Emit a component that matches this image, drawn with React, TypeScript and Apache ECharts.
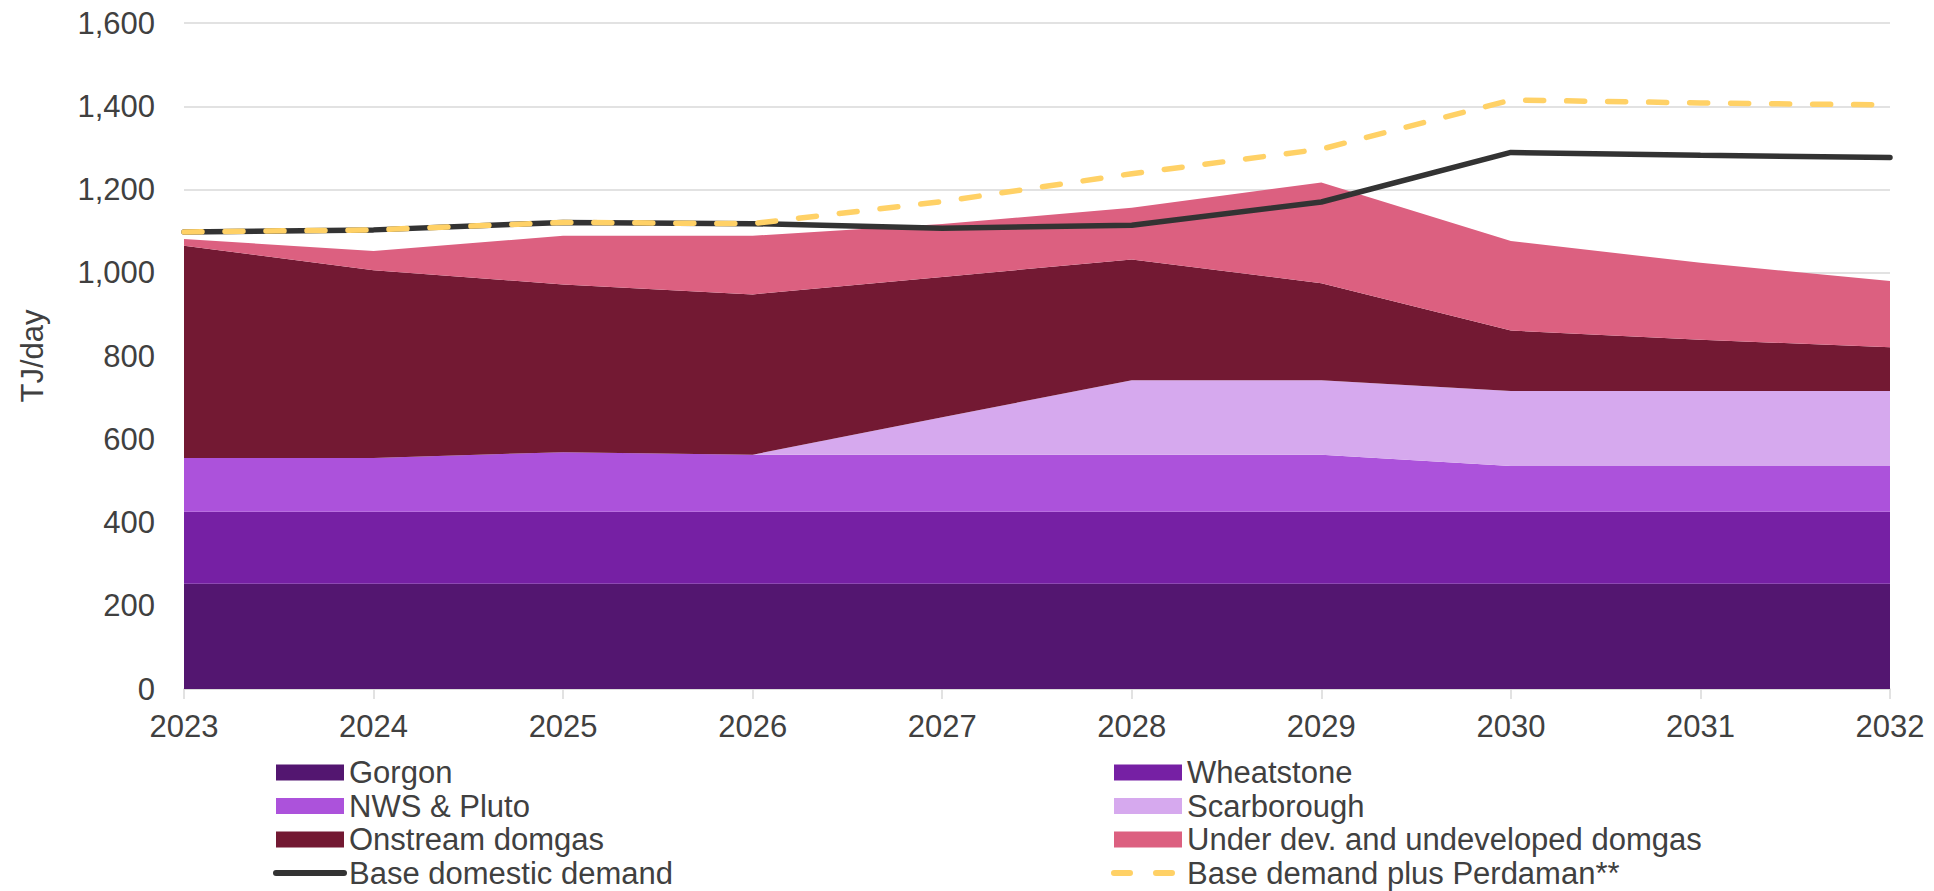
import React, { useEffect, useRef } from "react";
import * as echarts from "echarts";

const years = ["2023", "2024", "2025", "2026", "2027", "2028", "2029", "2030", "2031", "2032"];
const gorgon = [253, 253, 253, 253, 253, 253, 253, 253, 253, 253];
const wheatstone = [173, 173, 173, 173, 173, 173, 173, 173, 173, 173];
const nwsPluto = [129, 129, 143, 137, 137, 137, 137, 110, 110, 110];
const scarborough = [0, 0, 0, 0, 90, 179, 179, 180, 180, 180];
const onstream = [510, 451, 403, 385, 337, 290, 233, 145, 123, 105];
const underDev = [16, 46, 117, 141, 127, 124, 242, 215, 185, 159];
const baseDemand = [1098, 1103, 1121, 1118, 1107, 1114, 1170, 1289, 1282, 1277];
const perdaman = [1098, 1103, 1121, 1118, 1171, 1238, 1297, 1415, 1408, 1403];

const areaNames = ["Gorgon", "Wheatstone", "NWS & Pluto", "Scarborough", "Onstream domgas", "Under dev. and undeveloped domgas"];
const areaData = [gorgon, wheatstone, nwsPluto, scarborough, onstream, underDev];
const areaColors = ["#531670", "#7620A4", "#AC52DB", "#D6A9EE", "#731933", "#DC6080"];

const TEXT = "#404040";
const FONT = "Liberation Sans, Arial, sans-serif";

export default function App() {
  const ref = useRef<HTMLDivElement>(null);
  useEffect(() => {
    if (!ref.current) return;
    const chart = echarts.init(ref.current, null, { renderer: "svg" });
    const areaSeries = areaNames.map((name, i) => ({
      name,
      type: "line",
      stack: "supply",
      data: areaData[i],
      symbol: "none",
      lineStyle: { width: 0, color: areaColors[i] },
      itemStyle: { color: areaColors[i] },
      areaStyle: { color: areaColors[i], opacity: 1 },
      z: 2,
    }));
    const legendCommon = {
      orient: "vertical",
      top: 757,
      height: 140,
      padding: 0,
      itemWidth: 68,
      itemHeight: 16,
      itemGap: 2.5,
      textStyle: { fontSize: 31, color: TEXT, fontFamily: FONT },
    };
    chart.setOption({
      animation: false,
      textStyle: { fontFamily: FONT },
      grid: { left: 184, right: 44, top: 23, bottom: 202, containLabel: false },
      legend: [
        {
          ...legendCommon,
          left: 273,
          data: [
            { name: "Gorgon", icon: "rect" },
            { name: "NWS & Pluto", icon: "rect" },
            { name: "Onstream domgas", icon: "rect" },
            {
              name: "Base domestic demand",
              itemStyle: { opacity: 0 },
              lineStyle: { width: 6, cap: "round", color: "#333333" },
            },
          ],
        },
        {
          ...legendCommon,
          left: 1111,
          data: [
            { name: "Wheatstone", icon: "rect" },
            { name: "Scarborough", icon: "rect" },
            { name: "Under dev. and undeveloped domgas", icon: "rect" },
            {
              name: "Base demand plus Perdaman**",
              itemStyle: { opacity: 0 },
              lineStyle: { width: 6, cap: "round", type: [16, 26], color: "#FFD166" },
            },
          ],
        },
      ],
      xAxis: {
        type: "category",
        data: years,
        boundaryGap: false,
        axisLine: { lineStyle: { color: "#D9D9D9", width: 1.5 } },
        axisTick: { show: true, length: 10, lineStyle: { color: "#D9D9D9", width: 1.5 } },
        axisLabel: { fontSize: 31, color: TEXT, margin: 22, fontFamily: FONT },
        splitLine: { show: false },
      },
      yAxis: {
        type: "value",
        min: 0,
        max: 1600,
        interval: 200,
        name: "TJ/day",
        nameLocation: "middle",
        nameGap: 136,
        nameTextStyle: { fontSize: 31, color: TEXT, fontFamily: FONT },
        axisLine: { show: false },
        axisTick: { show: false },
        axisLabel: {
          fontSize: 31,
          color: TEXT,
          margin: 29,
          fontFamily: FONT,
          formatter: (v: number) => v.toLocaleString("en-US"),
        },
        splitLine: { lineStyle: { color: "#D9D9D9", width: 1.5 } },
      },
      series: [
        ...areaSeries,
        {
          name: "Base domestic demand",
          type: "line",
          data: baseDemand,
          symbol: "none",
          lineStyle: { color: "#333333", width: 5.5, cap: "round" },
          itemStyle: { color: "#333333" },
          z: 4,
        },
        {
          name: "Base demand plus Perdaman**",
          type: "line",
          data: perdaman,
          symbol: "none",
          lineStyle: { color: "#FFD166", width: 5.5, type: [18, 23], cap: "round" },
          itemStyle: { color: "#FFD166" },
          z: 5,
        },
      ],
    });
    return () => chart.dispose();
  }, []);
  return (
    <div
      ref={ref}
      style={{ position: "fixed", left: 0, top: 0, width: "1934px", height: "891px", background: "#fff" }}
    />
  );
}
